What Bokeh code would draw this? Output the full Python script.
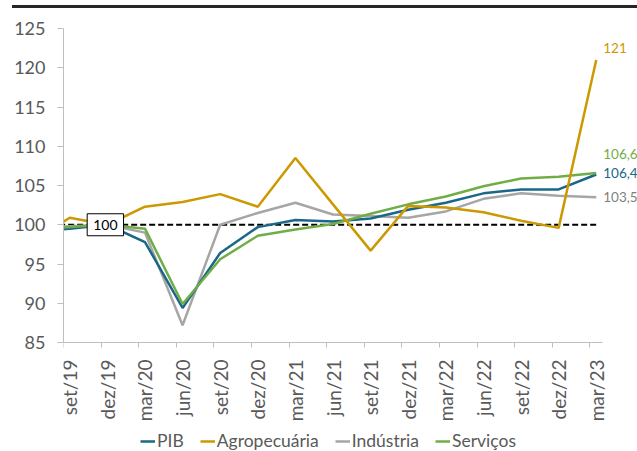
import math
from bokeh.plotting import figure
from bokeh.models import (Range1d, FixedTicker, Legend, LegendItem, Label, Div,
                          ColumnDataSource)
from bokeh.layouts import column
from bokeh.embed import file_html
from bokeh.resources import INLINE

# quarters (first one lies just left of the visible axis)
quarters = ["jun/19", "set/19", "dez/19", "mar/20", "jun/20", "set/20", "dez/20",
            "mar/21", "jun/21", "set/21", "dez/21", "mar/22", "jun/22", "set/22",
            "dez/22", "mar/23"]
pib = [99.1, 99.5, 100.0, 97.8, 89.4, 96.4, 99.7, 100.6, 100.4, 100.8, 101.9,
       102.8, 104.0, 104.5, 104.5, 106.4]
agro = [97.9, 100.9, 100.0, 102.3, 102.9, 103.9, 102.3, 108.5, 102.6, 96.7, 102.4,
        102.2, 101.6, 100.5, 99.6, 121.0]
industria = [99.6, 99.8, 100.0, 99.0, 87.2, 100.0, 101.5, 102.8, 101.3, 101.1, 100.9,
             101.7, 103.3, 104.0, 103.7, 103.5]
servicos = [99.4, 99.7, 100.0, 99.5, 89.9, 95.6, 98.6, 99.4, 100.1, 101.4, 102.6,
            103.6, 104.9, 105.9, 106.1, 106.6]
base = [100.0] * len(quarters)
y_ticks = [85, 90, 95, 100, 105, 110, 115, 120, 125]

# months since set/19
xm = [3 * (i - 1) for i in range(len(quarters))]
vis_x = xm[1:]
vis_labels = quarters[1:]

FONT = "Lato"
C_PIB = "#1B678A"
C_AGRO = "#CC9900"
C_IND = "#A6A6A6"
C_SERV = "#70AD47"
TXT = "#595959"
AX = "#BFBFBF"

# axis area: 539 px for 43 months, 314 px for 85..125
X0, X1 = -0.5, 42.5
Y0, Y1 = y_ticks[0], y_ticks[-1]
FW, FH = 574, 423
x_end = X0 + FW * (X1 - X0) / 539
y_start = Y1 - FH * (Y1 - Y0) / 314

p = figure(frame_width=FW, frame_height=FH, output_backend="svg",
           toolbar_location=None,
           x_range=Range1d(X0, x_end), y_range=Range1d(y_start, Y1),
           min_border_left=63, min_border_right=0, min_border_top=20,
           min_border_bottom=0)
p.outline_line_color = None
p.xgrid.visible = False
p.ygrid.visible = False
p.background_fill_color = "white"
p.border_fill_color = "white"

src = ColumnDataSource(dict(x=xm, pib=pib, agro=agro, ind=industria, serv=servicos,
                            base=base))

p.line("x", "base", source=src, line_color="black", line_width=2, line_dash="6 3")
r_ind = p.line("x", "ind", source=src, line_color=C_IND, line_width=2.5)
r_pib = p.line("x", "pib", source=src, line_color=C_PIB, line_width=2.5)
r_serv = p.line("x", "serv", source=src, line_color=C_SERV, line_width=2.5)
r_agro = p.line("x", "agro", source=src, line_color=C_AGRO, line_width=2.5)

# axes
xa = p.xaxis[0]
xa.fixed_location = Y0
xa.bounds = (X0, X1)
xa.ticker = FixedTicker(ticks=vis_x, minor_ticks=[v - 0.5 for v in vis_x])
xa.major_label_overrides = {v: lab for v, lab in zip(vis_x, vis_labels)}
xa.major_label_orientation = math.pi / 2
xa.major_tick_line_color = None
xa.major_tick_out = 0
xa.minor_tick_out = 5
xa.minor_tick_in = 0
xa.minor_tick_line_color = AX
xa.axis_line_color = AX
xa.major_label_text_font = FONT
xa.major_label_text_font_size = "19px"
xa.major_label_text_color = TXT
xa.major_label_standoff = 12

ya = p.yaxis[0]
ya.bounds = (Y0, Y1)
ya.ticker = FixedTicker(ticks=y_ticks)
ya.major_tick_out = 6
ya.major_tick_in = 0
ya.minor_tick_line_color = None
ya.major_tick_line_color = AX
ya.axis_line_color = AX
ya.major_label_text_font = FONT
ya.major_label_text_font_size = "18px"
ya.major_label_text_color = TXT
ya.major_label_standoff = 12

# "100" box label at dez/19
p.add_layout(Label(x=xm[2], y=base[2], text=f"{base[2]:.0f}", x_offset=-2,
                   text_font=FONT, text_font_size="14px", text_color="black",
                   text_align="center", text_baseline="middle",
                   background_fill_color="white", border_line_color="black",
                   border_line_width=1, padding=6))

def fmt(v):
    s = f"{v:.1f}".replace(".", ",")
    return s[:-2] if s.endswith(",0") else s

for vals, col, dy in [(agro, C_AGRO, 12), (servicos, C_SERV, 19),
                      (pib, C_PIB, 2), (industria, "#7F7F7F", 0)]:
    p.add_layout(Label(x=xm[-1], y=vals[-1], text=fmt(vals[-1]), x_offset=7,
                       y_offset=dy, text_font=FONT, text_font_size="13.5px",
                       text_color=col, text_align="left", text_baseline="middle"))

legend = Legend(items=[LegendItem(label="PIB", renderers=[r_pib]),
                       LegendItem(label="Agropecuária", renderers=[r_agro]),
                       LegendItem(label="Indústria", renderers=[r_ind]),
                       LegendItem(label="Serviços", renderers=[r_serv])],
                orientation="horizontal", location=(77, 0),
                glyph_width=15, glyph_height=14, label_standoff=2, spacing=16,
                padding=0, margin=0, border_line_color=None,
                label_text_font=FONT, label_text_font_size="17.5px",
                label_text_color=TXT, background_fill_alpha=0)
p.add_layout(legend)

bar = Div(text="", width=625, height=3, margin=(5, 0, 0, 12),
          styles={"background-color": "#262626"})

layout = column(bar, p, spacing=0)
open("out.html", "w").write(file_html(layout, INLINE))
